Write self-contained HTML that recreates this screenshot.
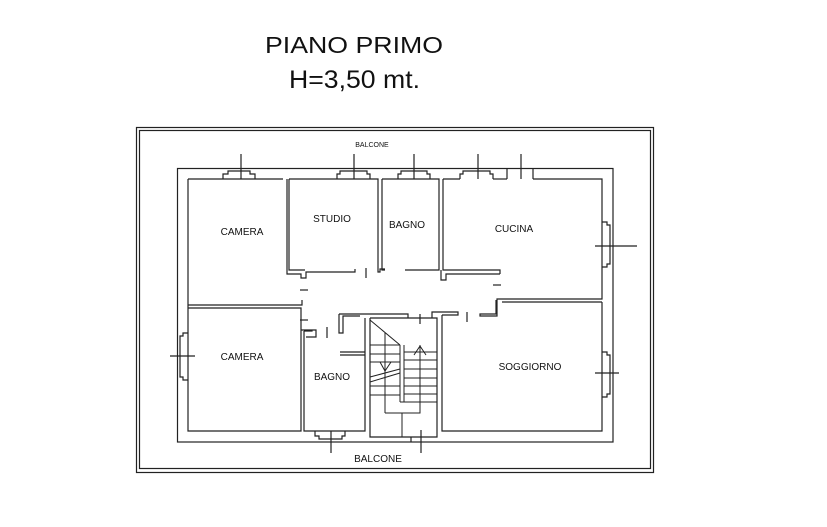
<!DOCTYPE html>
<html><head><meta charset="utf-8"><style>
html,body{margin:0;padding:0;background:#fff;}
svg{display:block;}
text{font-family:"Liberation Sans",Arial,sans-serif;fill:#111;}
</style></head><body>
<svg width="827" height="527" viewBox="0 0 827 527" xmlns="http://www.w3.org/2000/svg">
<g fill="none" stroke="#222" stroke-width="1.2">
<rect x="136.5" y="127.5" width="517" height="345"/>
<rect x="139.5" y="130.5" width="511" height="338"/>
<rect x="177.5" y="168.5" width="435.5" height="273.5"/>
<polyline points="188,179 188,431 301,431 301,308 188,308"/>
<polyline points="188,305 302,305 302,300"/>
<line x1="188" y1="179" x2="283" y2="179"/>
<polyline points="287,179 287,274 301,274 301,278 306,278 306,272 355,272 355,269"/>
<polyline points="289,179 378,179 378,272 380,272 380,269 385,269"/>
<polyline points="289,179 289,270 305,270"/>
<polyline points="382,179 382,270 385,270"/>
<polyline points="382,179 439,179 439,270 405,270"/>
<polyline points="443,179 443,270 500,270 500,274"/>
<polyline points="441,270 441,280 446,280 446,274 500,274"/>
<polyline points="443,179 460,179"/>
<polyline points="493,179 507,179"/>
<polyline points="533,179 602,179 602,299 497,299 497,316 480,316 480,314 496,314 496,300"/>
<polyline points="602,302 502,302"/>
<polyline points="442,315 442,431 602,431 602,302"/>
<polyline points="442,315 458,315 458,312 432,312 432,318"/>
<polyline points="370,318 437,318 437,437 370,437 370,318"/>
<polyline points="339,314 408,314 408,318"/>
<polyline points="339,314 339,333 343,333 343,316 360,316"/>
<polyline points="304,331 304,431 365,431 365,318"/>
<polyline points="304,331 312,331 312,330"/>
<polyline points="301,330 316,330 316,337 306,337"/>
<line x1="340" y1="352" x2="365" y2="352"/>
<line x1="340" y1="355" x2="365" y2="355"/>
<g stroke-width="1">
<line x1="370" y1="320" x2="400" y2="345"/>
<line x1="385" y1="333" x2="385" y2="413"/>
<line x1="400" y1="345" x2="400" y2="402"/>
<line x1="404" y1="345" x2="404" y2="402"/>
<line x1="400" y1="402" x2="404" y2="402"/>
<line x1="370" y1="345" x2="400" y2="345"/>
<line x1="370" y1="354" x2="400" y2="354"/>
<line x1="370" y1="362" x2="400" y2="362"/>
<line x1="370" y1="386" x2="400" y2="386"/>
<line x1="370" y1="395" x2="400" y2="395"/>
<line x1="370" y1="377" x2="400" y2="369"/>
<line x1="370" y1="382" x2="400" y2="373"/>
<line x1="404" y1="352" x2="437" y2="352"/>
<line x1="404" y1="360" x2="437" y2="360"/>
<line x1="404" y1="369" x2="437" y2="369"/>
<line x1="404" y1="378" x2="437" y2="378"/>
<line x1="404" y1="386" x2="437" y2="386"/>
<line x1="404" y1="394" x2="437" y2="394"/>
<line x1="404" y1="402" x2="437" y2="402"/>
<polyline points="385,413 420,413 420,345"/>
<line x1="402" y1="413" x2="402" y2="437"/>
<polyline points="414,355 420,346 426,355"/>
<polyline points="380,362 385,371 391,362"/>
</g>
<polyline points="223,179 223,174 228,174 228,171 250,171 250,174 255,174 255,179"/>
<line x1="241" y1="154" x2="241" y2="179"/>
<polyline points="337,179 337,174 340,174 340,171 367,171 367,174 370,174 370,179"/>
<line x1="354" y1="154" x2="354" y2="179"/>
<polyline points="398,179 398,174 401,174 401,171 427,171 427,174 430,174 430,179"/>
<line x1="414" y1="154" x2="414" y2="179"/>
<polyline points="460,179 460,174 463,174 463,171 490,171 490,174 493,174 493,179"/>
<line x1="478" y1="154" x2="478" y2="179"/>
<line x1="507" y1="168" x2="507" y2="179"/>
<line x1="533" y1="168" x2="533" y2="179"/>
<line x1="521" y1="154" x2="521" y2="179"/>
<polyline points="602,222 607,222 607,225 610,225 610,264 607,264 607,267 602,267"/>
<line x1="595" y1="246" x2="637" y2="246"/>
<polyline points="602,352 607,352 607,355 610,355 610,394 607,394 607,397 602,397"/>
<line x1="595" y1="373" x2="619" y2="373"/>
<polyline points="188,333 183,333 183,336 180,336 180,377 183,377 183,380 188,380"/>
<line x1="170" y1="356" x2="195" y2="356"/>
<polyline points="315,431 315,436 319,436 319,439 342,439 342,436 345,436 345,431"/>
<line x1="331" y1="431" x2="331" y2="453"/>
<polyline points="411,437 411,442 M430,437 430,442"/>
<line x1="421" y1="430" x2="421" y2="453"/>
<line x1="366" y1="268" x2="366" y2="278"/>
<line x1="467" y1="312" x2="467" y2="322"/>
<line x1="327" y1="327" x2="327" y2="338"/>
<line x1="300" y1="290" x2="308" y2="290"/>
<line x1="300" y1="320" x2="308" y2="320"/>
<line x1="493" y1="285" x2="501" y2="285"/>
<line x1="420" y1="314" x2="420" y2="324"/>
</g>
<text x="265" y="53" font-size="23" textLength="178" lengthAdjust="spacingAndGlyphs">PIANO PRIMO</text>
<text x="289" y="88" font-size="25" textLength="131" lengthAdjust="spacingAndGlyphs">H=3,50 mt.</text>
<text x="372" y="147" font-size="7" text-anchor="middle">BALCONE</text>
<text x="378" y="462" font-size="10" text-anchor="middle">BALCONE</text>
<g font-size="10" text-anchor="middle">
<text x="242" y="235">CAMERA</text>
<text x="332" y="222">STUDIO</text>
<text x="407" y="228">BAGNO</text>
<text x="514" y="232">CUCINA</text>
<text x="242" y="360">CAMERA</text>
<text x="332" y="380">BAGNO</text>
<text x="530" y="370">SOGGIORNO</text>
</g>
</svg>
</body></html>
